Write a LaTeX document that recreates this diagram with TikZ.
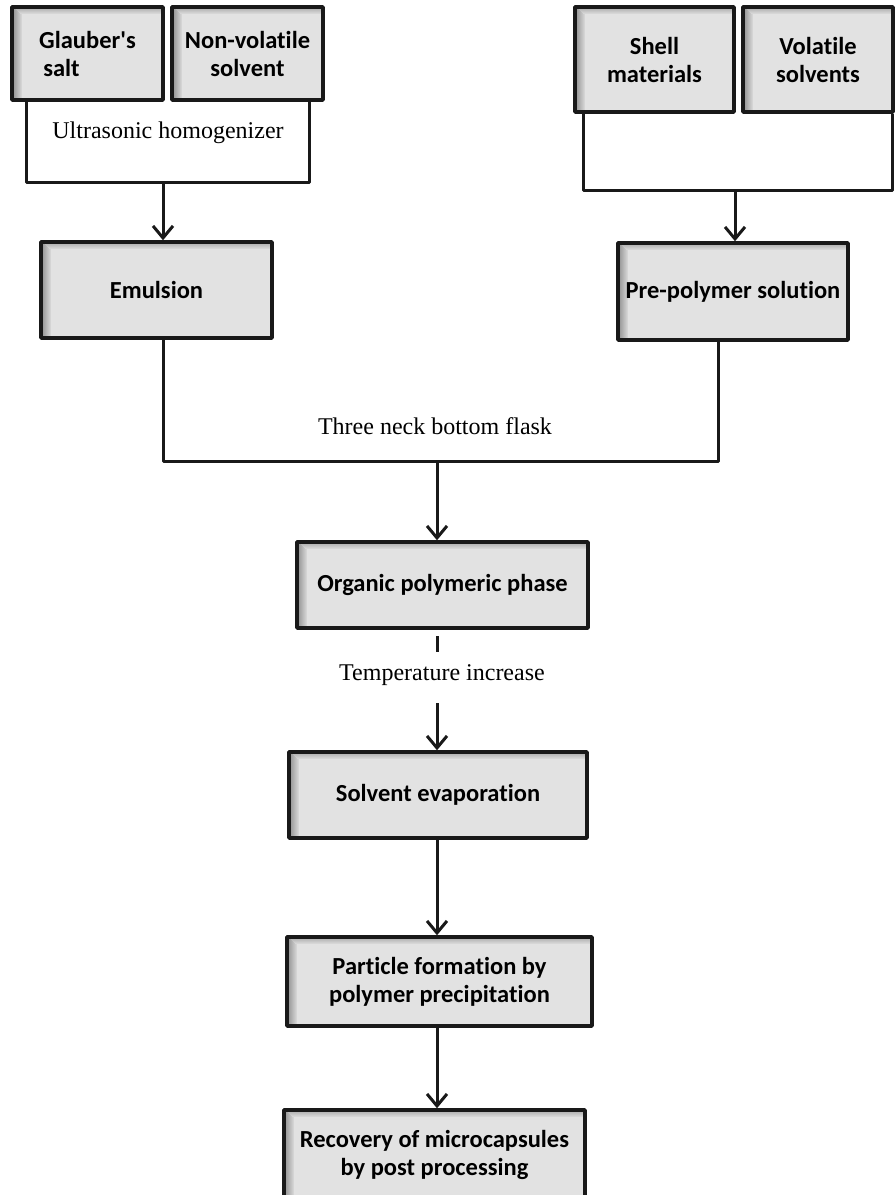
\documentclass[tikz,border=0pt]{standalone}
\usepackage{fontspec}
\setmainfont{Liberation Serif}
\newfontfamily\boxfont{Carlito}[Ligatures=NoCommon]
\usetikzlibrary{arrows.meta}
\definecolor{boxgray}{HTML}{E2E2E2}
\begin{document}
\begin{tikzpicture}[x=1pt, y=-1pt, line join=round,
	box/.style={draw=black!90, line width=3.5pt, fill=boxgray, inner sep=0pt,
		font=\boxfont\bfseries\fontsize{24.5}{28}\selectfont, align=center,
		path picture={
			\foreach \i in {0,...,9}{\pgfmathtruncatemacro\c{44-3*\i}
				\draw[black!\c, line width=1.05pt] ([xshift=\i pt+.5pt]path picture bounding box.north west)
				-- ([xshift=\i pt+.5pt]path picture bounding box.south west);}
			\foreach \i in {0,...,6}{\pgfmathtruncatemacro\c{34-3*\i}
				\draw[black!\c, line width=1.05pt] ([xshift=\i pt+1.5pt, yshift=-\i pt-.5pt]path picture bounding box.north west)
				-- ([yshift=-\i pt-.5pt]path picture bounding box.north east);}}},
	conn/.style={line width=3pt, black!90},
	arr/.style={conn, -{Straight Barb[length=12pt, width=20pt]}},
	lab/.style={font=\fontsize{24}{27}\selectfont}]
	\clip (0,0) rectangle (895,1195);
	% inputs
	\node[box, minimum width=151pt, minimum height=93pt, align=left] (glauber) at (87.5,53.5) {Glauber's\\\,salt};
	\node[box, minimum width=151pt, minimum height=93pt] (nonvol) at (247.5,53.5) {Non-volatile\\solvent};
	\node[box, minimum width=159pt, minimum height=105pt] (shell) at (654.5,59.5) {Shell\\materials};
	\node[box, minimum width=150pt, minimum height=105pt] (volatile) at (818,59.5) {Volatile\\solvents};
	% main chain
	\node[box, minimum width=231pt, minimum height=96pt] (emulsion) at (156.5,290) {Emulsion};
	\node[box, minimum width=230pt, minimum height=97pt] (prepoly) at (733,291.5) {Pre-polymer solution};
	\node[box, minimum width=291pt, minimum height=86pt] (organic) at (442.5,585) {Organic polymeric phase};
	\node[box, minimum width=298pt, minimum height=86pt] (solvent) at (438,795) {Solvent evaporation};
	\node[box, minimum width=305pt, minimum height=89pt] (particle) at (439.5,981.5) {Particle formation by\\polymer precipitation};
	\node[box, minimum width=301pt, minimum height=90pt] (recovery) at (434.5,1155) {Recovery of microcapsules\\by post processing};
	% labels
	\node[lab] (ultra) at (168,133) {Ultrasonic homogenizer};
	\node[lab] (flask) at (435,426) {Three neck bottom flask};
	\node[lab] (temp) at (442,675) {Temperature increase};
	% brackets and joints
	\coordinate (lbr) at (163,182);
	\coordinate (rbr) at (735,190);
	\coordinate (fl) at (437,461);
	\coordinate (tdash) at (437,636);
	\coordinate (tarr) at (437,703);
	\draw[conn] ([xshift=16pt]glauber.south west) |- (lbr) -| ([xshift=-15pt]nonvol.south east);
	\draw[arr] (lbr) -- (lbr |- emulsion.north);
	\draw[conn] ([xshift=10pt]shell.south west) |- (rbr) -| ([xshift=-2pt]volatile.south east);
	\draw[arr] (rbr) -- (rbr |- prepoly.north);
	\draw[conn] (emulsion.south -| lbr) |- (fl) -| ([xshift=-15pt]prepoly.south);
	\draw[arr] (fl) -- (fl |- organic.north);
	\draw[conn] (tdash) -- ++(0,16);
	\draw[arr] (tarr) -- (tarr |- solvent.north);
	\draw[arr] (solvent.south -| fl) -- (particle.north -| fl);
	\draw[arr] (particle.south -| fl) -- (recovery.north -| fl);
\end{tikzpicture}
\end{document}
